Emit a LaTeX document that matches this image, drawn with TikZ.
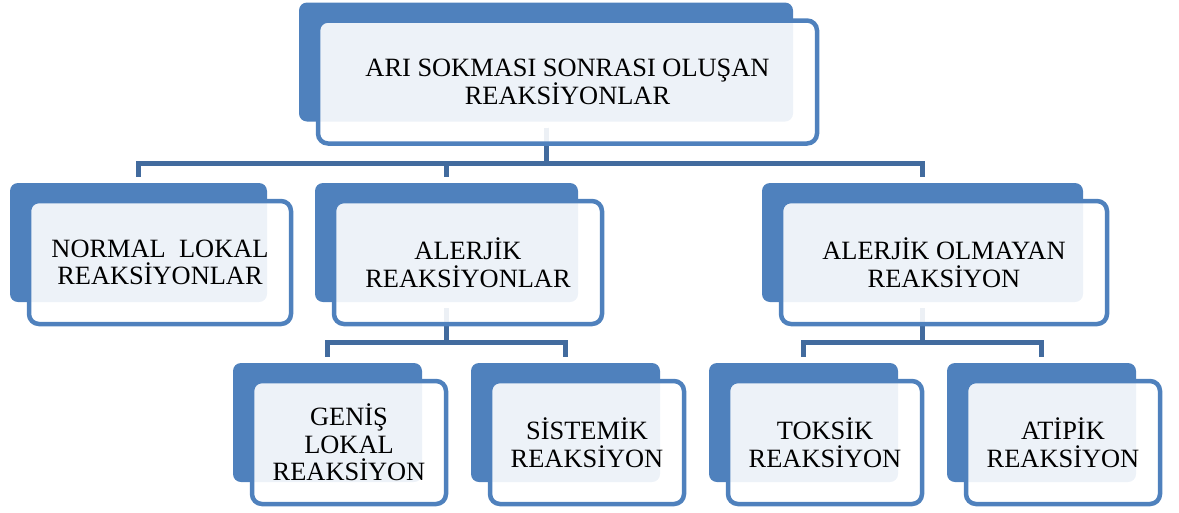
\documentclass[tikz,border=0pt]{standalone}
\usepackage{fontspec}
\setmainfont{Liberation Serif}
\usetikzlibrary{positioning}
\definecolor{boxblue}{RGB}{79,129,189}
\definecolor{linkblue}{RGB}{66,107,158}

\begin{document}
\begin{tikzpicture}[x=1pt, y=-1pt, every node/.style={font=\fontsize{26.4}{27.5}\selectfont}]
\tikzset{back/.style={fill=boxblue, rounded corners=8pt, inner sep=0pt, outer sep=0pt, minimum height=119pt}}
\tikzset{front/.style={draw=boxblue, line width=4.5pt, fill=white, fill opacity=0.9, text opacity=1, rounded corners=10pt, align=center, inner sep=0pt, outer sep=0pt, minimum height=123pt, below right=18pt and 19pt of #1.north west}}
\tikzset{link/.style={draw=linkblue, line width=5pt, shorten <=6pt, shorten >=6pt}}
\useasboundingbox (0,0) rectangle (1179,512);
\node[back, minimum width=494pt] (b0) at (546,62) {};
\node[back, minimum width=257pt] (b1) at (138.5,242.5) {};
\node[back, minimum width=263pt] (b2) at (446.5,242.5) {};
\node[back, minimum width=321pt] (b3) at (922.5,242.5) {};
\node[back, minimum width=189pt] (b4) at (327.5,422.5) {};
\node[back, minimum width=189pt] (b5) at (565.5,422.5) {};
\node[back, minimum width=189pt] (b6) at (803.5,422.5) {};
\node[back, minimum width=189pt] (b7) at (1041.5,422.5) {};
\draw[link] (b0.south) -- ++(0,42) -| (b1.north);
\draw[link] (b0.south) -- ++(0,42) -| (b2.north);
\draw[link] (b0.south) -- ++(0,42) -| (b3.north);
\draw[link] (b2.south) -- ++(0,40) -| (b4.north);
\draw[link] (b2.south) -- ++(0,40) -| (b5.north);
\draw[link] (b3.south) -- ++(0,40) -| (b6.north);
\draw[link] (b3.south) -- ++(0,40) -| (b7.north);
\node[front=b0, minimum width=499pt] (f0) {ARI SOKMASI SONRASI OLUŞAN\\REAKSİYONLAR};
\node[front=b1, minimum width=262pt] (f1) {NORMAL\ \ LOKAL\\REAKSİYONLAR};
\node[front=b2, minimum width=268pt] (f2) {ALERJİK\\REAKSİYONLAR};
\node[front=b3, minimum width=326pt] (f3) {ALERJİK OLMAYAN\\REAKSİYON};
\node[front=b4, minimum width=194pt] (f4) {GENİŞ\\LOKAL\\REAKSİYON};
\node[front=b5, minimum width=194pt] (f5) {SİSTEMİK\\REAKSİYON};
\node[front=b6, minimum width=194pt] (f6) {TOKSİK\\REAKSİYON};
\node[front=b7, minimum width=194pt] (f7) {ATİPİK\\REAKSİYON};
\end{tikzpicture}
\end{document}
